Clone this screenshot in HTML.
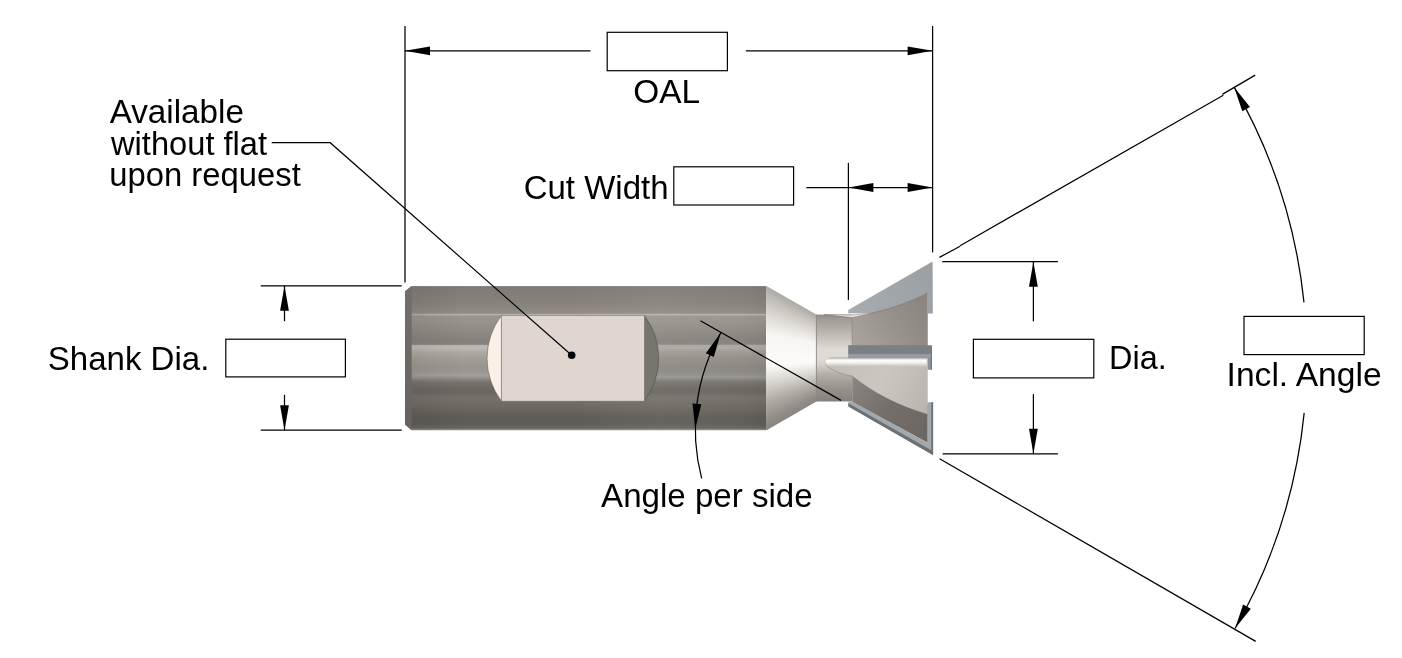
<!DOCTYPE html>
<html><head><meta charset="utf-8"><title>Dovetail Cutter</title>
<style>
html,body{margin:0;padding:0;background:#fff;}
svg{display:block;will-change:transform}
text{font-family:"Liberation Sans",sans-serif;fill:#000}
</style></head><body>
<svg width="1402" height="658" viewBox="0 0 1402 658">
<rect width="1402" height="658" fill="#fff"/>
<defs>
<linearGradient id="gS" gradientUnits="userSpaceOnUse" x1="0" y1="286.0" x2="0" y2="430.3">
<stop offset="0.0000" stop-color="#9d9891"/>
<stop offset="0.0062" stop-color="#7e7973"/>
<stop offset="0.0277" stop-color="#817c76"/>
<stop offset="0.0970" stop-color="#85807a"/>
<stop offset="0.1525" stop-color="#8b8680"/>
<stop offset="0.1899" stop-color="#938e88"/>
<stop offset="0.1940" stop-color="#b5b0aa"/>
<stop offset="0.2010" stop-color="#b5b0aa"/>
<stop offset="0.2065" stop-color="#9b9690"/>
<stop offset="0.2356" stop-color="#99948e"/>
<stop offset="0.3049" stop-color="#908b85"/>
<stop offset="0.3742" stop-color="#86817c"/>
<stop offset="0.4040" stop-color="#88837d"/>
<stop offset="0.4130" stop-color="#bdb8b2"/>
<stop offset="0.4297" stop-color="#bfbab4"/>
<stop offset="0.4574" stop-color="#b0aba4"/>
<stop offset="0.4990" stop-color="#a49f98"/>
<stop offset="0.5613" stop-color="#9c968f"/>
<stop offset="0.5960" stop-color="#9c9894"/>
<stop offset="0.6202" stop-color="#a29f9e"/>
<stop offset="0.6410" stop-color="#8e8b88"/>
<stop offset="0.6653" stop-color="#78746f"/>
<stop offset="0.7034" stop-color="#6d6964"/>
<stop offset="0.7346" stop-color="#6a6660"/>
<stop offset="0.7692" stop-color="#75706a"/>
<stop offset="0.7900" stop-color="#746f6a"/>
<stop offset="0.8316" stop-color="#6d6963"/>
<stop offset="0.8732" stop-color="#66625c"/>
<stop offset="0.9148" stop-color="#5f5b55"/>
<stop offset="0.9563" stop-color="#605c57"/>
<stop offset="0.9806" stop-color="#69655f"/>
<stop offset="0.9924" stop-color="#77736d"/>
<stop offset="0.9965" stop-color="#9d9892"/>
<stop offset="1.0000" stop-color="#9d9892"/>
</linearGradient>
<linearGradient id="gC" x1="0" y1="0" x2="0" y2="1">
<stop offset="0" stop-color="#a8a39d"/><stop offset="0.1" stop-color="#c4bfb9"/><stop offset="0.22" stop-color="#e0dcd7"/><stop offset="0.33" stop-color="#f7f5f2"/>
<stop offset="0.55" stop-color="#fbfaf8"/><stop offset="0.66" stop-color="#dbd7d1"/><stop offset="0.8" stop-color="#aca7a1"/><stop offset="0.92" stop-color="#8d8882"/><stop offset="1" stop-color="#807b75"/>
</linearGradient>
<linearGradient id="gN" x1="0" y1="0" x2="0" y2="1">
<stop offset="0" stop-color="#8f8983"/><stop offset="0.04" stop-color="#9e9993"/><stop offset="0.12" stop-color="#aba6a0"/><stop offset="0.2" stop-color="#bab5af"/>
<stop offset="0.3" stop-color="#cdc8c2"/><stop offset="0.4" stop-color="#dedad4"/><stop offset="0.5" stop-color="#dfdbd5"/><stop offset="0.58" stop-color="#d3cfc9"/>
<stop offset="0.68" stop-color="#b5b0aa"/><stop offset="0.85" stop-color="#969189"/><stop offset="1" stop-color="#86817b"/>
</linearGradient>
<linearGradient id="gH1" gradientUnits="userSpaceOnUse" x1="852" y1="346" x2="928" y2="295">
<stop offset="0" stop-color="#aaa59f"/><stop offset="0.5" stop-color="#97928b"/><stop offset="1" stop-color="#88837d"/>
</linearGradient>
<linearGradient id="gH2" gradientUnits="userSpaceOnUse" x1="852" y1="380" x2="928" y2="440">
<stop offset="0" stop-color="#8a8580"/><stop offset="0.45" stop-color="#746f6a"/><stop offset="1" stop-color="#6b6661"/>
</linearGradient>
<linearGradient id="gF" gradientUnits="userSpaceOnUse" x1="0" y1="357.7" x2="0" y2="367">
<stop offset="0" stop-color="#8a857f"/><stop offset="0.1" stop-color="#d9d5cf"/><stop offset="0.28" stop-color="#fdfcfa"/><stop offset="0.55" stop-color="#f4f2ee"/><stop offset="0.8" stop-color="#d5d0ca"/><stop offset="1" stop-color="#c3beb7"/>
</linearGradient>
<linearGradient id="gL" gradientUnits="userSpaceOnUse" x1="830" y1="365" x2="928" y2="410">
<stop offset="0" stop-color="#c4bfb8"/><stop offset="0.5" stop-color="#cbc6bf"/><stop offset="1" stop-color="#b9b4ad"/>
</linearGradient>
<linearGradient id="gHz" gradientUnits="userSpaceOnUse" x1="411.7" y1="0" x2="766" y2="0">
<stop offset="0" stop-color="#000" stop-opacity="0.07"/><stop offset="0.15" stop-color="#000" stop-opacity="0"/><stop offset="0.45" stop-color="#fff" stop-opacity="0"/>
<stop offset="0.7" stop-color="#fff" stop-opacity="0.05"/><stop offset="0.92" stop-color="#fff" stop-opacity="0.02"/><stop offset="1" stop-color="#000" stop-opacity="0.03"/>
</linearGradient>
<linearGradient id="gHz2" gradientUnits="userSpaceOnUse" x1="411.7" y1="0" x2="766" y2="0">
<stop offset="0" stop-color="#000" stop-opacity="0"/><stop offset="0.3" stop-color="#000" stop-opacity="0.01"/><stop offset="0.7" stop-color="#000" stop-opacity="0.09"/><stop offset="1" stop-color="#000" stop-opacity="0.10"/>
</linearGradient>
<linearGradient id="gCh" x1="0" y1="0" x2="0" y2="1">
<stop offset="0" stop-color="#726e6a"/><stop offset="0.5" stop-color="#6d6965"/><stop offset="1" stop-color="#66625e"/>
</linearGradient>
<linearGradient id="gB" gradientUnits="userSpaceOnUse" x1="850" y1="312" x2="932" y2="264">
<stop offset="0" stop-color="#a7acb0"/><stop offset="1" stop-color="#9a9fa3"/>
</linearGradient>
</defs>
<path d="M405.0,291.2 L411.7,286.0 L766.0,286.0 L766.0,430.3 L411.7,430.3 L405.0,424.5 Z" fill="url(#gS)"/>
<path d="M405.0,291.2 L411.7,286.0 L411.7,430.3 L405.0,424.5 Z" fill="url(#gCh)"/>
<rect x="411.7" y="286" width="354.3" height="144.3" fill="url(#gHz)"/>
<rect x="411.7" y="345.3" width="354.3" height="31" fill="url(#gHz2)"/>
<path d="M501.4,315.5 A70.9,70.9 0 0 0 501.4,401.1 Z" fill="#fbf0e8" stroke="#5a5856" stroke-width="0.6"/>
<path d="M644.3,315.5 A70.9,70.9 0 0 1 644.3,401.1 Z" fill="#78746f" stroke="#4f4d4b" stroke-width="0.6"/>
<rect x="501.4" y="315.5" width="142.89999999999998" height="85.60000000000002" fill="#e0d6d0" stroke="#7d7873" stroke-width="0.5"/>
<rect x="766.00" y="286.14" width="0.80" height="144.01" fill="url(#gC)"/>
<rect x="766.50" y="286.43" width="0.80" height="143.44" fill="url(#gC)"/>
<rect x="767.00" y="286.71" width="0.80" height="142.87" fill="url(#gC)"/>
<rect x="767.50" y="287.00" width="0.80" height="142.29" fill="url(#gC)"/>
<rect x="768.00" y="287.29" width="0.80" height="141.72" fill="url(#gC)"/>
<rect x="768.50" y="287.57" width="0.80" height="141.14" fill="url(#gC)"/>
<rect x="769.00" y="287.86" width="0.80" height="140.57" fill="url(#gC)"/>
<rect x="769.50" y="288.14" width="0.80" height="140.00" fill="url(#gC)"/>
<rect x="770.00" y="288.43" width="0.80" height="139.42" fill="url(#gC)"/>
<rect x="770.50" y="288.72" width="0.80" height="138.85" fill="url(#gC)"/>
<rect x="771.00" y="289.00" width="0.80" height="138.27" fill="url(#gC)"/>
<rect x="771.50" y="289.29" width="0.80" height="137.70" fill="url(#gC)"/>
<rect x="772.00" y="289.57" width="0.80" height="137.12" fill="url(#gC)"/>
<rect x="772.50" y="289.86" width="0.80" height="136.55" fill="url(#gC)"/>
<rect x="773.00" y="290.15" width="0.80" height="135.98" fill="url(#gC)"/>
<rect x="773.50" y="290.43" width="0.80" height="135.40" fill="url(#gC)"/>
<rect x="774.00" y="290.72" width="0.80" height="134.83" fill="url(#gC)"/>
<rect x="774.50" y="291.00" width="0.80" height="134.25" fill="url(#gC)"/>
<rect x="775.00" y="291.29" width="0.80" height="133.68" fill="url(#gC)"/>
<rect x="775.50" y="291.58" width="0.80" height="133.11" fill="url(#gC)"/>
<rect x="776.00" y="291.86" width="0.80" height="132.53" fill="url(#gC)"/>
<rect x="776.50" y="292.15" width="0.80" height="131.96" fill="url(#gC)"/>
<rect x="777.00" y="292.44" width="0.80" height="131.38" fill="url(#gC)"/>
<rect x="777.50" y="292.72" width="0.80" height="130.81" fill="url(#gC)"/>
<rect x="778.00" y="293.01" width="0.80" height="130.24" fill="url(#gC)"/>
<rect x="778.50" y="293.29" width="0.80" height="129.66" fill="url(#gC)"/>
<rect x="779.00" y="293.58" width="0.80" height="129.09" fill="url(#gC)"/>
<rect x="779.50" y="293.87" width="0.80" height="128.51" fill="url(#gC)"/>
<rect x="780.00" y="294.15" width="0.80" height="127.94" fill="url(#gC)"/>
<rect x="780.50" y="294.44" width="0.80" height="127.37" fill="url(#gC)"/>
<rect x="781.00" y="294.72" width="0.80" height="126.79" fill="url(#gC)"/>
<rect x="781.50" y="295.01" width="0.80" height="126.22" fill="url(#gC)"/>
<rect x="782.00" y="295.30" width="0.80" height="125.64" fill="url(#gC)"/>
<rect x="782.50" y="295.58" width="0.80" height="125.07" fill="url(#gC)"/>
<rect x="783.00" y="295.87" width="0.80" height="124.50" fill="url(#gC)"/>
<rect x="783.50" y="296.15" width="0.80" height="123.92" fill="url(#gC)"/>
<rect x="784.00" y="296.44" width="0.80" height="123.35" fill="url(#gC)"/>
<rect x="784.50" y="296.73" width="0.80" height="122.77" fill="url(#gC)"/>
<rect x="785.00" y="297.01" width="0.80" height="122.20" fill="url(#gC)"/>
<rect x="785.50" y="297.30" width="0.80" height="121.63" fill="url(#gC)"/>
<rect x="786.00" y="297.58" width="0.80" height="121.05" fill="url(#gC)"/>
<rect x="786.50" y="297.87" width="0.80" height="120.48" fill="url(#gC)"/>
<rect x="787.00" y="298.16" width="0.80" height="119.90" fill="url(#gC)"/>
<rect x="787.50" y="298.44" width="0.80" height="119.33" fill="url(#gC)"/>
<rect x="788.00" y="298.73" width="0.80" height="118.76" fill="url(#gC)"/>
<rect x="788.50" y="299.01" width="0.80" height="118.18" fill="url(#gC)"/>
<rect x="789.00" y="299.30" width="0.80" height="117.61" fill="url(#gC)"/>
<rect x="789.50" y="299.59" width="0.80" height="117.03" fill="url(#gC)"/>
<rect x="790.00" y="299.87" width="0.80" height="116.46" fill="url(#gC)"/>
<rect x="790.50" y="300.16" width="0.80" height="115.89" fill="url(#gC)"/>
<rect x="791.00" y="300.44" width="0.80" height="115.31" fill="url(#gC)"/>
<rect x="791.50" y="300.73" width="0.80" height="114.74" fill="url(#gC)"/>
<rect x="792.00" y="301.01" width="0.80" height="114.17" fill="url(#gC)"/>
<rect x="792.50" y="301.30" width="0.80" height="113.59" fill="url(#gC)"/>
<rect x="793.00" y="301.59" width="0.80" height="113.02" fill="url(#gC)"/>
<rect x="793.50" y="301.87" width="0.80" height="112.44" fill="url(#gC)"/>
<rect x="794.00" y="302.16" width="0.80" height="111.87" fill="url(#gC)"/>
<rect x="794.50" y="302.44" width="0.80" height="111.30" fill="url(#gC)"/>
<rect x="795.00" y="302.73" width="0.80" height="110.72" fill="url(#gC)"/>
<rect x="795.50" y="303.02" width="0.80" height="110.15" fill="url(#gC)"/>
<rect x="796.00" y="303.30" width="0.80" height="109.57" fill="url(#gC)"/>
<rect x="796.50" y="303.59" width="0.80" height="109.00" fill="url(#gC)"/>
<rect x="797.00" y="303.88" width="0.80" height="108.43" fill="url(#gC)"/>
<rect x="797.50" y="304.16" width="0.80" height="107.85" fill="url(#gC)"/>
<rect x="798.00" y="304.45" width="0.80" height="107.28" fill="url(#gC)"/>
<rect x="798.50" y="304.73" width="0.80" height="106.70" fill="url(#gC)"/>
<rect x="799.00" y="305.02" width="0.80" height="106.13" fill="url(#gC)"/>
<rect x="799.50" y="305.31" width="0.80" height="105.56" fill="url(#gC)"/>
<rect x="800.00" y="305.59" width="0.80" height="104.98" fill="url(#gC)"/>
<rect x="800.50" y="305.88" width="0.80" height="104.41" fill="url(#gC)"/>
<rect x="801.00" y="306.16" width="0.80" height="103.83" fill="url(#gC)"/>
<rect x="801.50" y="306.45" width="0.80" height="103.26" fill="url(#gC)"/>
<rect x="802.00" y="306.74" width="0.80" height="102.69" fill="url(#gC)"/>
<rect x="802.50" y="307.02" width="0.80" height="102.11" fill="url(#gC)"/>
<rect x="803.00" y="307.31" width="0.80" height="101.54" fill="url(#gC)"/>
<rect x="803.50" y="307.59" width="0.80" height="100.96" fill="url(#gC)"/>
<rect x="804.00" y="307.88" width="0.80" height="100.39" fill="url(#gC)"/>
<rect x="804.50" y="308.17" width="0.80" height="99.81" fill="url(#gC)"/>
<rect x="805.00" y="308.45" width="0.80" height="99.24" fill="url(#gC)"/>
<rect x="805.50" y="308.74" width="0.80" height="98.67" fill="url(#gC)"/>
<rect x="806.00" y="309.02" width="0.80" height="98.09" fill="url(#gC)"/>
<rect x="806.50" y="309.31" width="0.80" height="97.52" fill="url(#gC)"/>
<rect x="807.00" y="309.60" width="0.80" height="96.94" fill="url(#gC)"/>
<rect x="807.50" y="309.88" width="0.80" height="96.37" fill="url(#gC)"/>
<rect x="808.00" y="310.17" width="0.80" height="95.80" fill="url(#gC)"/>
<rect x="808.50" y="310.45" width="0.80" height="95.22" fill="url(#gC)"/>
<rect x="809.00" y="310.74" width="0.80" height="94.65" fill="url(#gC)"/>
<rect x="809.50" y="311.03" width="0.80" height="94.07" fill="url(#gC)"/>
<rect x="810.00" y="311.31" width="0.80" height="93.50" fill="url(#gC)"/>
<rect x="810.50" y="311.60" width="0.80" height="92.93" fill="url(#gC)"/>
<rect x="811.00" y="311.88" width="0.80" height="92.35" fill="url(#gC)"/>
<rect x="811.50" y="312.17" width="0.80" height="91.78" fill="url(#gC)"/>
<rect x="812.00" y="312.46" width="0.80" height="91.20" fill="url(#gC)"/>
<rect x="812.50" y="312.74" width="0.80" height="90.63" fill="url(#gC)"/>
<rect x="813.00" y="313.03" width="0.80" height="90.06" fill="url(#gC)"/>
<rect x="813.50" y="313.31" width="0.80" height="89.48" fill="url(#gC)"/>
<rect x="814.00" y="313.60" width="0.80" height="88.91" fill="url(#gC)"/>
<rect x="814.50" y="313.89" width="0.80" height="88.33" fill="url(#gC)"/>
<rect x="815.00" y="314.17" width="0.80" height="87.76" fill="url(#gC)"/>
<rect x="815.50" y="314.46" width="0.80" height="87.19" fill="url(#gC)"/>
<rect x="816.0" y="314.6" width="36.200000000000045" height="86.89999999999998" fill="url(#gN)"/>
<line x1="816.4" y1="314.6" x2="816.4" y2="401.5" stroke="#8d8882" stroke-width="0.9"/>
<path d="M852.2,317.6 L870.3,313.5 Q900,307 927.75,293.2 L927.75,346 L852.2,346 Z" fill="url(#gH1)"/>
<path d="M852.2,375 L927.75,405 L927.75,442.7 L852.2,401.9 Z" fill="url(#gH2)"/>
<path d="M825.3,362.8 Q825.6,366.3 829,367.6 Q838.5,373.3 848,375.2 L852.2,375.8 Q885,402 927.75,414.2 L927.75,357.5 L831,357.5 Q825.3,358 825.3,362.8 Z" fill="url(#gL)"/>
<path d="M830.2,357.7 L926.8,357.7 L926.8,367 L830.2,367 A4.7,4.65 0 0 1 830.2,357.7 Z" fill="url(#gF)"/>
<path d="M824,314.6 L852.4,317.6 L870.3,313.4 L852,315 Z" fill="#ebe7e1" stroke="#7a756f" stroke-width="0.5"/>
<line x1="852.2" y1="317.6" x2="852.2" y2="346" stroke="#7d7872" stroke-width="0.7"/>
<rect x="848.2" y="345.2" width="83.39999999999998" height="9" fill="#7b8085"/>
<rect x="848.2" y="354.0" width="83.39999999999998" height="4.2" fill="#969ba1"/>
<rect x="927.75" y="358.0" width="4.149999999999977" height="11.8" fill="#8d9298"/>
<rect x="930.9" y="345.6" width="1.0" height="24.2" fill="#6f7479"/>
<path d="M848.2,309.9 L932.6,261.6 L932.85,313.6 L927.75,313.6 L927.75,293.2 Q900,307 870.3,313.5 L848.2,313.2 Z" fill="url(#gB)"/>
<path d="M927.75,293.2 Q900,307 870.3,313.5" fill="none" stroke="#6f6a65" stroke-width="0.7"/>
<path d="M848.3,401.9 L853.2,401.9 L927.55,442.7 L927.55,402.2 L933.1,402.2 L933.1,454.6 L932.3,454.6 L848.3,406.2 Z" fill="#a2a8ac"/>
<path d="M848.3,403.2 L931.3,450.2 L931.3,402.2 L933.1,402.2 L933.1,454.8 L932.3,454.8 L848.3,406.4 Z" fill="#6b7075"/>
<path d="M825.5,364.5 Q826.5,366.8 829,367.8 Q838.5,373.5 848,375.4 L852.2,376" fill="none" stroke="#8f8a84" stroke-width="0.6"/>
<line x1="405.00" y1="26.00" x2="405.00" y2="282.60" stroke="#000" stroke-width="1.25"/>
<line x1="932.60" y1="26.00" x2="932.60" y2="252.40" stroke="#000" stroke-width="1.25"/>
<line x1="405.00" y1="50.80" x2="590.50" y2="50.80" stroke="#000" stroke-width="1.25"/>
<polygon points="405.00,50.80 430.00,46.40 430.00,55.20" fill="#000"/>
<line x1="745.90" y1="50.80" x2="932.60" y2="50.80" stroke="#000" stroke-width="1.25"/>
<polygon points="932.60,50.80 907.60,55.20 907.60,46.40" fill="#000"/>
<rect x="607.20" y="32.30" width="120.20" height="38.40" fill="#fff" stroke="#000" stroke-width="1.2"/>
<text transform="translate(633.3,103.4) scale(1.003,1)" font-size="33.3">OAL</text>
<rect x="673.80" y="166.80" width="119.80" height="38.20" fill="#fff" stroke="#000" stroke-width="1.2"/>
<text transform="translate(523.7,199.1) scale(0.991,1)" font-size="33.3">Cut Width</text>
<line x1="848.40" y1="162.90" x2="848.40" y2="299.90" stroke="#000" stroke-width="1.25"/>
<line x1="806.30" y1="187.50" x2="932.60" y2="187.50" stroke="#000" stroke-width="1.25"/>
<polygon points="848.40,187.50 873.40,183.10 873.40,191.90" fill="#000"/>
<polygon points="932.60,187.50 907.60,191.90 907.60,183.10" fill="#000"/>
<text transform="translate(109.7,122.9) scale(0.998,1)" font-size="33.3">Available</text>
<text transform="translate(111.0,154.9) scale(0.981,1)" font-size="33.3">without flat</text>
<text transform="translate(109.3,186.1) scale(0.985,1)" font-size="33.3">upon request</text>
<polyline points="271.7,142.7 330.2,142.7 571.7,355.3" fill="none" stroke="#000" stroke-width="1.2"/>
<circle cx="571.7" cy="355.3" r="3.8" fill="#000"/>
<line x1="260.70" y1="285.80" x2="401.70" y2="285.80" stroke="#000" stroke-width="1.25"/>
<line x1="260.70" y1="430.20" x2="401.70" y2="430.20" stroke="#000" stroke-width="1.25"/>
<line x1="284.50" y1="285.80" x2="284.50" y2="321.20" stroke="#000" stroke-width="1.25"/>
<polygon points="284.50,285.80 288.90,310.80 280.10,310.80" fill="#000"/>
<line x1="284.50" y1="394.80" x2="284.50" y2="430.20" stroke="#000" stroke-width="1.25"/>
<polygon points="284.50,430.20 280.10,405.20 288.90,405.20" fill="#000"/>
<rect x="225.80" y="339.20" width="119.60" height="37.70" fill="#fff" stroke="#000" stroke-width="1.2"/>
<text transform="translate(47.7,369.5) scale(0.993,1)" font-size="33.3">Shank Dia.</text>
<line x1="942.20" y1="261.70" x2="1057.90" y2="261.70" stroke="#000" stroke-width="1.25"/>
<line x1="942.60" y1="453.90" x2="1057.90" y2="453.90" stroke="#000" stroke-width="1.25"/>
<line x1="1033.40" y1="261.70" x2="1033.40" y2="321.40" stroke="#000" stroke-width="1.25"/>
<polygon points="1033.40,261.70 1037.80,286.70 1029.00,286.70" fill="#000"/>
<line x1="1033.40" y1="394.10" x2="1033.40" y2="453.70" stroke="#000" stroke-width="1.25"/>
<polygon points="1033.40,453.70 1029.00,428.70 1037.80,428.70" fill="#000"/>
<rect x="973.40" y="339.30" width="120.40" height="38.60" fill="#fff" stroke="#000" stroke-width="1.2"/>
<text transform="translate(1109.1,369.2) scale(0.974,1)" font-size="33.3">Dia.</text>
<line x1="939.40" y1="257.40" x2="960.10" y2="246.20" stroke="#000" stroke-width="1.25"/>
<line x1="960.10" y1="245.70" x2="1223.30" y2="95.20" stroke="#000" stroke-width="1.25"/>
<line x1="1222.30" y1="94.40" x2="1255.20" y2="75.10" stroke="#000" stroke-width="1.25"/>
<line x1="939.60" y1="458.70" x2="1255.70" y2="641.40" stroke="#000" stroke-width="1.25"/>
<path d="M1234.16,87.13 A542.9,542.9 0 0 1 1303.99,302.43" fill="none" stroke="#000" stroke-width="1.25"/>
<polygon points="1234.16,87.13 1250.01,106.95 1242.29,111.18" fill="#000"/>
<path d="M1304.18,412.93 A542.9,542.9 0 0 1 1235.03,628.55" fill="none" stroke="#000" stroke-width="1.25"/>
<polygon points="1235.03,628.55 1243.09,604.48 1250.83,608.67" fill="#000"/>
<rect x="1244.00" y="316.40" width="120.20" height="38.20" fill="#fff" stroke="#000" stroke-width="1.2"/>
<text transform="translate(1226.6,386.0) scale(1.009,1)" font-size="33.3">Incl. Angle</text>
<line x1="700.40" y1="320.70" x2="841.00" y2="400.40" stroke="#000" stroke-width="1.25"/>
<path d="M720.79,332.70 A194.7,194.7 0 0 0 701.68,478.43" fill="none" stroke="#000" stroke-width="1.25"/>
<polygon points="720.79,332.70 713.80,357.10 705.88,353.24" fill="#000"/>
<polygon points="695.30,428.80 692.51,403.57 701.29,404.13" fill="#000"/>
<text transform="translate(601.1,506.5) scale(0.994,1)" font-size="33.3">Angle per side</text>
</svg></body></html>
